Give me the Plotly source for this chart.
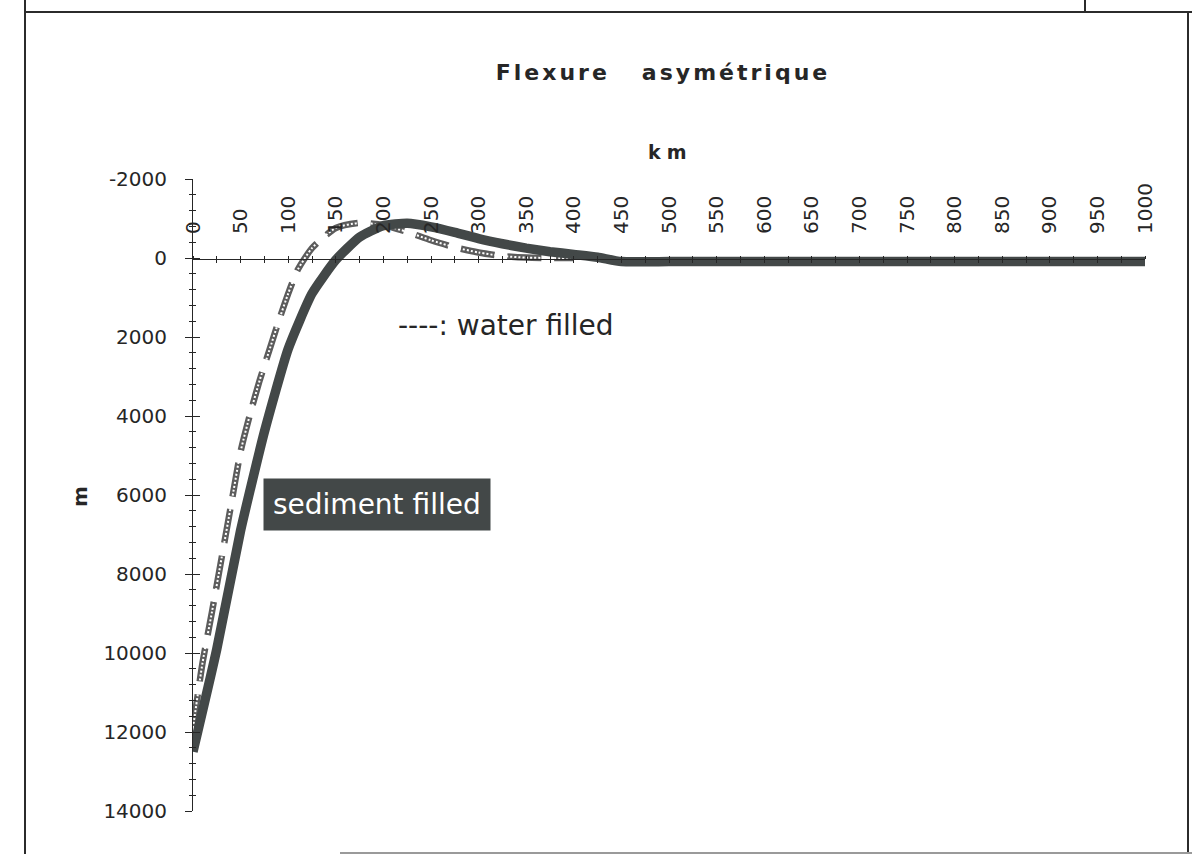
import plotly.graph_objects as go

# Flexure profiles: distance (km) vs deflection (m, positive downward)
KM_SEDIMENT = [0, 25, 50, 75, 100, 125, 150, 175, 200, 225, 250, 275, 300, 325, 350,
               375, 400, 425, 450, 500, 550, 600, 650, 700, 750, 800, 850, 900, 950, 1000]
DEPTH_SEDIMENT = [12500, 9900, 6900, 4400, 2300, 900, 50, -530, -820, -880, -790, -650,
                  -490, -360, -250, -160, -90, -20, 90, 90, 90, 90, 90, 90, 90,
                  90, 90, 90, 90, 90]

KM_WATER = [0, 10, 20, 30, 40, 50, 60, 70, 80, 90, 100, 110, 125, 150, 175, 200, 225,
            250, 275, 300, 325, 350, 375, 400]
DEPTH_WATER = [11900, 10250, 8950, 7600, 6250, 4900, 3950, 3100, 2350, 1600, 900, 300,
               -250, -760, -890, -830, -660, -450, -270, -140, -50, -10, 0, 0]

X_TICKS = [0, 50, 100, 150, 200, 250, 300, 350, 400, 450, 500, 550, 600, 650, 700,
           750, 800, 850, 900, 950, 1000]
X_LABELS = [str(v) for v in X_TICKS]
Y_TICKS = [-2000, 0, 2000, 4000, 6000, 8000, 10000, 12000, 14000]
Y_LABELS = [str(v) for v in Y_TICKS]

FONT = "DejaVu Sans"
INK = "#262626"
CURVE = "#434848"

# plot area in pixels
L, R, T, B = 193, 1145, 179, 811
W, H = 1192, 854


def px_x(px):
    return (px - L) / (R - L)


def px_y(py):
    return (B - py) / (B - T)


fig = go.Figure()

# water-filled profile: beaded dashed line (dark dashes with a white dotted core)
fig.add_trace(go.Scatter(
    x=KM_WATER, y=DEPTH_WATER, mode="lines",
    line=dict(color="#5c5c5c", width=6.5, dash="34px,13px", shape="spline", smoothing=0.6),
    hoverinfo="skip", showlegend=False))
fig.add_trace(go.Scatter(
    x=KM_WATER, y=DEPTH_WATER, mode="lines",
    line=dict(color="white", width=2, dash="2px,2px", shape="spline", smoothing=0.6),
    hoverinfo="skip", showlegend=False))

# sediment-filled profile
fig.add_trace(go.Scatter(
    x=KM_SEDIMENT, y=DEPTH_SEDIMENT, mode="lines",
    line=dict(color=CURVE, width=9.5, shape="spline", smoothing=0.5),
    hoverinfo="skip", showlegend=False))

tick_font = dict(family=FONT, size=20, color=INK)

fig.update_layout(
    width=W, height=H,
    margin=dict(l=L, r=W - R, t=T, b=H - B, pad=0),
    paper_bgcolor="white", plot_bgcolor="white",
    showlegend=False,
    title=dict(
        text='<span style="letter-spacing:3px">Flexure\u00a0\u00a0\u00a0asymétrique</span>',
        font=dict(family=FONT, size=22, color=INK, weight="bold"),
        x=px_x(663), xref="paper", xanchor="center",
        y=1 - 72 / H, yref="container", yanchor="middle"),
    xaxis=dict(
        range=[0, 1000], anchor="free", position=px_y(259), side="top",
        showline=True, linecolor=INK, linewidth=1,
        tickmode="array", tickvals=X_TICKS, ticktext=X_LABELS, tickangle=-90,
        ticks="outside", ticklen=3, tickcolor=INK, tickwidth=1,
        minor=dict(tickmode="linear", tick0=0, dtick=25, ticks="outside",
                   ticklen=3, tickcolor=INK, tickwidth=1, showgrid=False),
        ticklabelstandoff=18, tickfont=tick_font,
        showgrid=False, zeroline=False, fixedrange=True),
    xaxis2=dict(
        range=[0, 1000], anchor="free", position=px_y(259), side="top",
        overlaying="x", showline=False, showticklabels=False,
        tickmode="linear", tick0=0, dtick=25,
        ticks="inside", ticklen=3, tickcolor=INK, tickwidth=1,
        showgrid=False, zeroline=False, fixedrange=True),
    yaxis=dict(
        range=[14000, -2000], showline=True, linecolor=INK, linewidth=1,
        tickmode="array", tickvals=Y_TICKS, ticktext=Y_LABELS,
        ticks="outside", ticklen=7, tickcolor=INK, tickwidth=1,
        minor=dict(tickmode="linear", tick0=-2000, dtick=400, ticks="outside",
                   ticklen=3, tickcolor=INK, tickwidth=1, showgrid=False),
        ticklabelstandoff=14, tickfont=tick_font,
        showgrid=False, zeroline=False, fixedrange=True),
    yaxis2=dict(
        range=[14000, -2000], overlaying="y", anchor="x", side="left",
        showline=False, showticklabels=False,
        tickmode="linear", tick0=-2000, dtick=2000,
        ticks="inside", ticklen=7, tickcolor=INK, tickwidth=1,
        minor=dict(tickmode="linear", tick0=-2000, dtick=400, ticks="inside",
                   ticklen=3, tickcolor=INK, tickwidth=1, showgrid=False),
        showgrid=False, zeroline=False, fixedrange=True),
)

# empty traces so the overlay axes (crossing tick halves) are drawn
fig.add_trace(go.Scatter(x=[], y=[], xaxis="x2", yaxis="y", showlegend=False))
fig.add_trace(go.Scatter(x=[], y=[], xaxis="x", yaxis="y2", showlegend=False))

annotations = [
    dict(text="----: water filled", x=px_x(506), y=px_y(325),
         xref="paper", yref="paper", xanchor="center", yanchor="middle",
         showarrow=False, font=dict(family=FONT, size=28, color=INK)),
    dict(text="sediment filled", x=px_x(377), y=px_y(504),
         xref="paper", yref="paper", xanchor="center", yanchor="middle",
         showarrow=False, font=dict(family=FONT, size=28, color="white"),
         bgcolor=CURVE, borderpad=9),
    dict(text='<span style="letter-spacing:6px">km</span>', x=px_x(670), y=px_y(152),
         xref="paper", yref="paper", xanchor="center", yanchor="middle",
         showarrow=False, font=dict(family=FONT, size=19, color=INK, weight="bold")),
    dict(text="m", x=px_x(80), y=px_y(497), textangle=-90,
         xref="paper", yref="paper", xanchor="center", yanchor="middle",
         showarrow=False, font=dict(family=FONT, size=20, color=INK, weight="bold")),
]
fig.update_layout(annotations=annotations)

# page frame lines
frame = dict(type="line", xref="paper", yref="paper", line=dict(color="#2b2b2b", width=2))
shapes = [
    dict(frame, x0=px_x(25), x1=px_x(25), y0=px_y(0), y1=px_y(854)),
    dict(frame, x0=px_x(25), x1=px_x(1192), y0=px_y(12), y1=px_y(12)),
    dict(frame, x0=px_x(1188), x1=px_x(1188), y0=px_y(12), y1=px_y(854)),
    dict(frame, x0=px_x(1085), x1=px_x(1085), y0=px_y(0), y1=px_y(12)),
    dict(type="line", xref="paper", yref="paper", x0=px_x(340), x1=px_x(1192),
         y0=px_y(853), y1=px_y(853), line=dict(color="#9a9a9a", width=2)),
]
fig.update_layout(shapes=shapes)

fig.write_html("out.html")
